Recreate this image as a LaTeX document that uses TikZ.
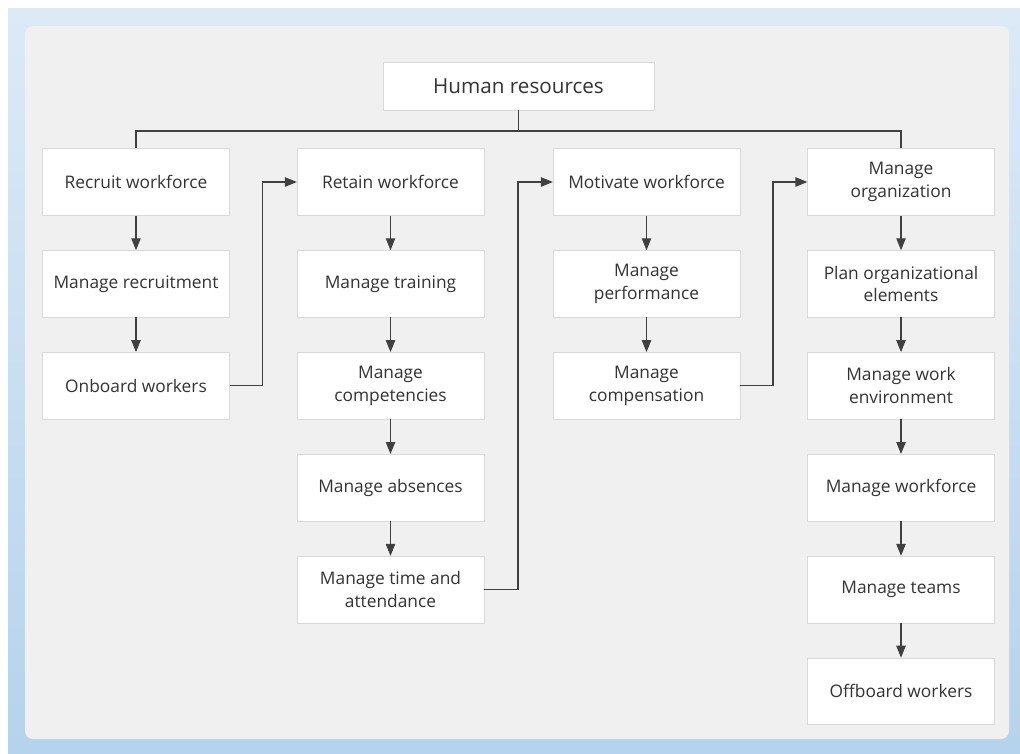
\documentclass[tikz,border=0pt]{standalone}
\usepackage{fontspec}
\setmainfont{Open Sans}
\usetikzlibrary{positioning,arrows.meta}

\definecolor{panelgray}{HTML}{F0F0F0}
\definecolor{boxline}{HTML}{D9D9D9}
\definecolor{linkgray}{HTML}{404040}
\definecolor{textgray}{HTML}{333333}
\definecolor{bgtop}{HTML}{DCEAF6}
\definecolor{bgbottom}{HTML}{B5D3EC}

\tikzset{
  task/.style={draw=boxline, fill=white, minimum width=140pt, minimum height=50pt,
    inner sep=2pt, align=center, text=textgray, font=\fontsize{13}{17}\selectfont},
  link/.style={draw=linkgray, line width=1pt, -{Triangle[length=9pt,width=7pt]}},
  bus/.style={draw=linkgray, line width=1pt},
}

\begin{document}
\begin{tikzpicture}[x=0.75pt, y=-0.75pt, node distance=26pt]
  \useasboundingbox (0,0) rectangle (1020,753);
  % window background and panel
  \fill[white] (0,0) rectangle (1020,753);
  \shade[top color=bgtop, bottom color=bgbottom] (8,8) rectangle (1020,753);
  \fill[panelgray, rounded corners=6pt] (25,26) rectangle (1009,739);

  \node[task, minimum width=203pt, minimum height=36pt, font=\fontsize{15.5}{18}\selectfont]
    (hr) at (518.5,86) {Human resources};

  % recruit column
  \node[task] (recruit) at (136,182) {Recruit workforce};
  \node[task, below=of recruit] (recruitment) {Manage recruitment};
  \node[task, below=of recruitment] (onboard) {Onboard workers};

  % retain column
  \node[task] (retain) at (390.5,182) {Retain workforce};
  \node[task, below=of retain] (training) {Manage training};
  \node[task, below=of training] (competencies) {Manage\\competencies};
  \node[task, below=of competencies] (absences) {Manage absences};
  \node[task, below=of absences] (attendance) {Manage time and\\attendance};

  % motivate column
  \node[task] (motivate) at (646.5,182) {Motivate workforce};
  \node[task, below=of motivate] (performance) {Manage\\performance};
  \node[task, below=of performance] (compensation) {Manage\\compensation};

  % organization column
  \node[task] (organization) at (901,182) {Manage\\organization};
  \node[task, below=of organization] (elements) {Plan organizational\\elements};
  \node[task, below=of elements] (environment) {Manage work\\environment};
  \node[task, below=of environment] (workforce) {Manage workforce};
  \node[task, below=of workforce] (teams) {Manage teams};
  \node[task, below=of teams] (offboard) {Offboard workers};

  % top bus
  \coordinate (bus) at (518.5,131);
  \draw[bus] (hr.south) -- (bus);
  \draw[bus] (recruit.north) |- (bus) -| (organization.north);

  % arrows down each column
  \foreach \a/\b in {recruit/recruitment, recruitment/onboard,
      retain/training, training/competencies, competencies/absences, absences/attendance,
      motivate/performance, performance/compensation,
      organization/elements, elements/environment, environment/workforce,
      workforce/teams, teams/offboard}
    \draw[link] (\a) -- (\b);

  % hand-over between columns
  \draw[link] (onboard.east) -- ++(33,0) |- (retain.west);
  \draw[link] (attendance.east) -- ++(34,0) |- (motivate.west);
  \draw[link] (compensation.east) -- ++(33,0) |- (organization.west);
\end{tikzpicture}
\end{document}
